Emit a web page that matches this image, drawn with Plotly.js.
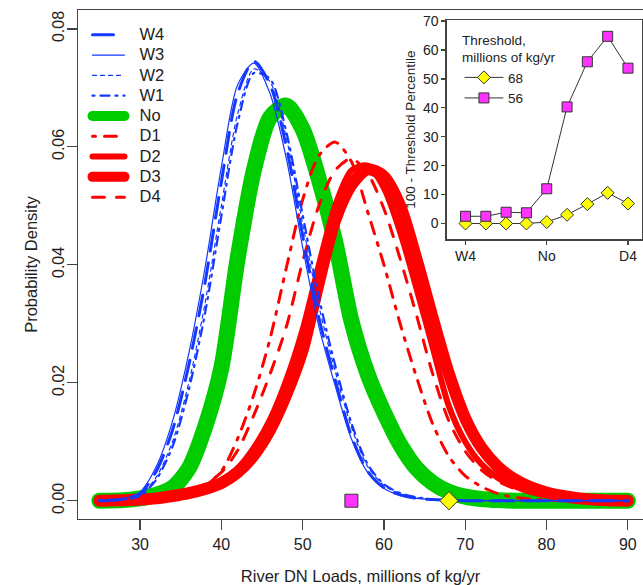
<!DOCTYPE html>
<html>
<head>
<meta charset="utf-8">
<script src="https://cdn.plot.ly/plotly-3.0.1.min.js"></script>
<style>
html,body{margin:0;padding:0;background:#fff;overflow:hidden}
#chart{width:643px;height:585px}
.scatterlayer path.js-line, .legendlines path.js-line{stroke-linecap:round !important;stroke-linejoin:round !important}
.legend .scrollbox{clip-path:none !important}
.legend .legendtext{font-size:16.5px !important;transform:translate(10px,0px)}
</style>
</head>
<body>
<div id="chart"></div>
<script>
// ---- main panel: density curves of river DN loads (millions of kg/yr)
const loads = [25,28,30,32,34,36,38,40,42,44,46,48,50,52,54,56,58,60,62,64,66,68,70,72,74,76,78,80,82,84,87,90];
const densW4 = [0,0.0003,0.0012,0.0050,0.0120,0.0230,0.0370,0.0540,0.0690,0.0745,0.0705,0.0600,0.0450,0.0310,0.0205,0.0110,0.0050,0.0022,0.0010,0.0004,0.0002,0.0001,0,0,0,0,0,0,0,0,0,0];
const densW3 = [0,0.0004,0.0015,0.0058,0.0135,0.0250,0.0395,0.0565,0.0705,0.0742,0.0690,0.0580,0.0430,0.0295,0.0195,0.0105,0.0048,0.0021,0.0009,0.0004,0.0002,0.0001,0,0,0,0,0,0,0,0,0,0];
const densW2 = [0,0.0002,0.0009,0.0040,0.0100,0.0200,0.0335,0.0500,0.0655,0.0732,0.0710,0.0615,0.0470,0.0330,0.0220,0.0125,0.0058,0.0026,0.0012,0.0005,0.0002,0.0001,0,0,0,0,0,0,0,0,0,0];
const densW1 = [0,0.0002,0.0008,0.0036,0.0092,0.0188,0.0318,0.0482,0.0640,0.0725,0.0715,0.0625,0.0485,0.0345,0.0230,0.0132,0.0062,0.0028,0.0013,0.0006,0.0002,0.0001,0,0,0,0,0,0,0,0,0,0];
const densNo = [0,0.0001,0.0004,0.0010,0.0022,0.0055,0.0125,0.0225,0.0410,0.0560,0.0650,0.0670,0.0630,0.0545,0.0440,0.0305,0.0215,0.0150,0.0095,0.0055,0.0030,0.0015,0.0007,0.0003,0.0001,0,0,0,0,0,0,0];
const densD1 = [0,0,0.0001,0.0002,0.0005,0.0012,0.0025,0.0050,0.0105,0.0180,0.0275,0.0395,0.0510,0.0585,0.0608,0.0575,0.0490,0.0400,0.0300,0.0210,0.0130,0.0075,0.0042,0.0024,0.0012,0.0006,0.0003,0.0001,0,0,0,0];
const densD2 = [0,0.0001,0.0002,0.0004,0.0008,0.0014,0.0022,0.0034,0.0055,0.0090,0.0138,0.0205,0.0290,0.0400,0.0500,0.0560,0.0568,0.0530,0.0455,0.0360,0.0260,0.0160,0.0100,0.0062,0.0039,0.0025,0.0015,0.0009,0.0005,0.0002,0.0001,0];
const densD3 = [0,0.0001,0.0002,0.0004,0.0008,0.0013,0.0020,0.0030,0.0048,0.0077,0.0120,0.0180,0.0255,0.0370,0.0475,0.0535,0.0562,0.0550,0.0500,0.0410,0.0310,0.0215,0.0140,0.0090,0.0058,0.0037,0.0023,0.0014,0.0008,0.0004,0.0001,0];
const densD4 = [0,0.0001,0.0002,0.0004,0.0009,0.0016,0.0028,0.0048,0.0085,0.0145,0.0215,0.0295,0.0405,0.0500,0.0560,0.0580,0.0555,0.0495,0.0410,0.0315,0.0215,0.0135,0.0084,0.0052,0.0033,0.0021,0.0013,0.0008,0.0004,0.0002,0.0001,0];
const loadTicks = [30,40,50,60,70,80,90];
const densityTicks = [0,0.02,0.04,0.06,0.08];

// ---- inset: 100 - threshold percentile per scenario
const scenarios = ['W4','W3','W2','W1','No','D1','D2','D3','D4'];
const thresholds = [68,56];
const exceed68 = [0,0,0,0,0.5,3,6.7,10.6,6.9];
const exceed56 = [2.5,2.5,3.9,3.7,12,40.3,55.9,64.7,53.7];
const insetTicks = ['W4','No','D4'];

const BLUE = '#1538ff', RED = '#ff0000', GREEN = '#00cc00';
function curve(name, y, color, width, dash, rank){
  return {x: loads, y: y, name: name, type: 'scatter', mode: 'lines',
    line: {color: color, width: width, dash: dash, shape: 'spline', smoothing: 0.8},
    legendrank: rank, legend: 'legend', hoverinfo: 'skip'};
}
const traces = [
  curve('No', densNo, GREEN, 16, 'solid', 5),
  curve('D1', densD1, RED, 3, '3px,9px,12px,9px', 6),
  curve('D2', densD2, RED, 6, 'solid', 7),
  curve('D3', densD3, RED, 12, 'solid', 8),
  curve('D4', densD4, RED, 3, '12px,12px', 9),
  curve('W4', densW4, BLUE, 3, '21px,12px', 1),
  curve('W3', densW3, BLUE, 1.2, 'solid', 2),
  curve('W2', densW2, BLUE, 1.2, '4px,4px', 3),
  curve('W1', densW1, BLUE, 2.2, '2px,6px,9px,6px', 4),
  {x: thresholds, y: thresholds.map(() => 0), type: 'scatter', mode: 'markers', showlegend: false,
   marker: {symbol: ['diamond','square'], size: [14,13], opacity: 1, color: ['#ffff00','#ff33ff'], line: {color: '#333', width: 1}}},
  {x: scenarios, y: exceed68, name: String(thresholds[0]), type: 'scatter', mode: 'lines+markers',
   xaxis: 'x2', yaxis: 'y2', legend: 'legend2',
   line: {color: '#333', width: 1}, marker: {symbol: 'diamond', size: 10, color: '#ffff00', line: {color: '#333', width: 1}}},
  {x: scenarios, y: exceed56, name: String(thresholds[1]), type: 'scatter', mode: 'lines+markers',
   xaxis: 'x2', yaxis: 'y2', legend: 'legend2',
   line: {color: '#333', width: 1}, marker: {symbol: 'square', size: 10, color: '#ff33ff', line: {color: '#333', width: 1}}}
];

const axisCommon = {showgrid: false, zeroline: false, showline: true, linecolor: '#444', linewidth: 1.3,
  ticks: 'outside', tickcolor: '#444', tickwidth: 1.3};
const layout = {
  width: 643, height: 585,
  margin: {l: 78, r: 0, t: 10, b: 66},
  paper_bgcolor: '#fff', plot_bgcolor: '#fff',
  font: {family: 'Liberation Sans, Arial, sans-serif', size: 16, color: '#222'},
  xaxis: Object.assign({}, axisCommon, {domain: [0,1], range: [22.37, 91.87], tickvals: loadTicks, ticklen: 10, mirror: true,
    tickfont: {size: 16}, title: {text: 'River DN Loads, millions of kg/yr', font: {size: 16.5}, standoff: 20}}),
  yaxis: Object.assign({}, axisCommon, {domain: [0,1], range: [-0.0031, 0.0832], tickvals: densityTicks, tickformat: '.2f',
    tickangle: -90, ticklen: 10, ticklabelstandoff: -4, tickfont: {size: 16},
    title: {text: 'Probability Density', font: {size: 16.5}, standoff: 8}}),
  xaxis2: Object.assign({}, axisCommon, {domain: [0.6526, 0.9982], anchor: 'y2', type: 'category', categoryarray: scenarios,
    range: [-0.926, 8.69], tickvals: insetTicks, ticklen: 4, mirror: true, tickfont: {size: 14}}),
  yaxis2: Object.assign({}, axisCommon, {domain: [0.5495, 0.9804], anchor: 'x2', range: [-5.46, 70.35], dtick: 10,
    ticklen: 4, mirror: true, tickfont: {size: 14},
    title: {text: '100 - Threshold Percentile', font: {size: 13.5}, standoff: 4}}),
  showlegend: true,
  legend: {x: 0.0168, y: 0.981, xanchor: 'left', yanchor: 'top', bgcolor: 'rgba(0,0,0,0)', borderwidth: 0,
    font: {size: 13.3}, itemwidth: 32, tracegroupgap: 0, traceorder: 'normal'},
  legend2: {x: 0.676, y: 0.9666, xanchor: 'left', yanchor: 'top', bgcolor: 'rgba(0,0,0,0)', borderwidth: 0,
    font: {size: 13.5}, itemwidth: 38, traceorder: 'normal',
    title: {text: 'Threshold,<br>millions of kg/yr', font: {size: 13.5}}}
};
Plotly.newPlot('chart', traces, layout, {staticPlot: true, displayModeBar: false});
</script>
</body>
</html>
